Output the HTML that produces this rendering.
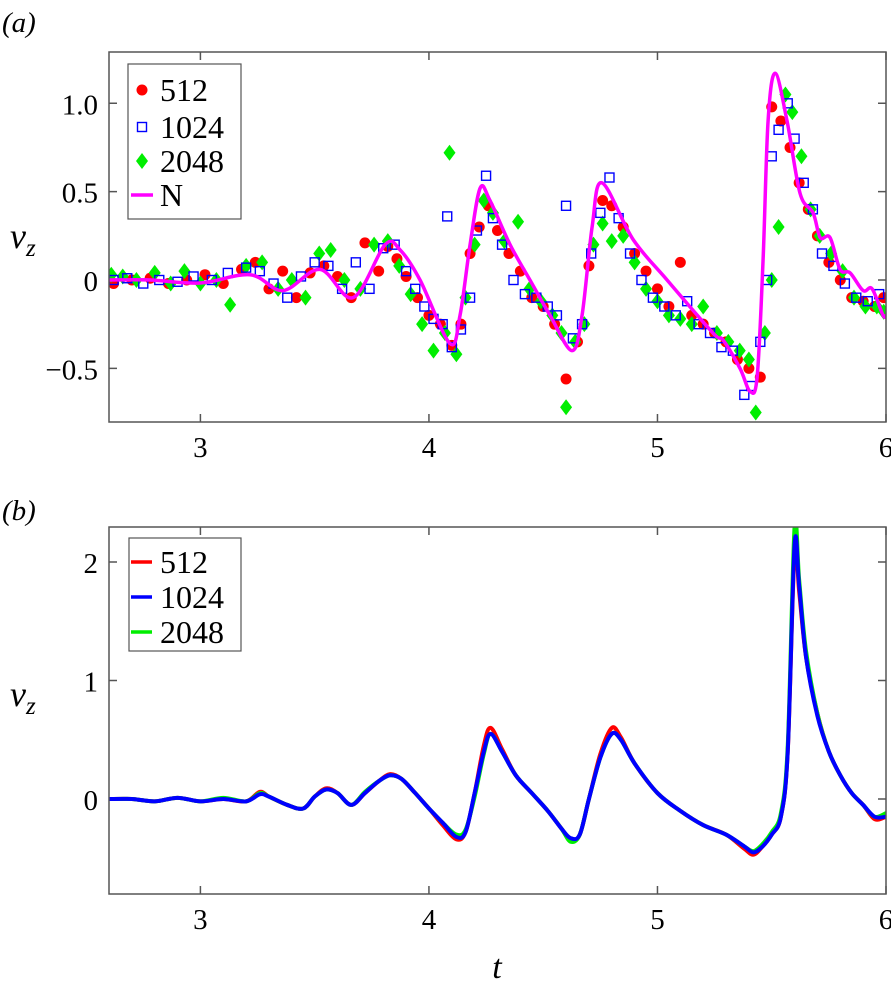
<!DOCTYPE html>
<html><head><meta charset="utf-8">
<style>
html,body{margin:0;padding:0;background:#fff;}
svg{display:block;}
svg text{font-family:"Liberation Serif","Times New Roman",Times,Tinos,"DejaVu Serif",serif !important;}
</style></head>
<body>
<svg id="chart" width="891" height="997" viewBox="0 0 891 997" xmlns="http://www.w3.org/2000/svg">
<defs>
<clipPath id="clipA"><rect x="109" y="52" width="777" height="370"/></clipPath>
<clipPath id="clipB"><rect x="109" y="527" width="777" height="367"/></clipPath>
</defs>
<text x="2" y="32" font-size="29" font-style="italic">(a)</text>
<text x="2" y="520" font-size="29" font-style="italic">(b)</text>
<g><text x="10" y="248" font-size="36" font-style="italic">v<tspan font-size="25" dy="8">z</tspan></text></g>
<g><text x="10" y="706" font-size="36" font-style="italic">v<tspan font-size="25" dy="8">z</tspan></text></g>
<text x="497" y="978" font-size="34" font-style="italic" text-anchor="middle">t</text>
<g id="axesA"></g>
<g id="axesB"></g>
<g id="plotA" clip-path="url(#clipA)"></g>
<g id="plotB" clip-path="url(#clipB)"></g>
<g id="frames"></g>
<g id="legendA"></g>
<g id="legendB"></g>
</svg>
<script>
const xTicks=[3,4,5,6];
const yTicksA=[-0.5,0,0.5,1.0];
const yTickLabelsA=["\u22120.5","0","0.5","1.0"];
const yTicksB=[0,1,2];
const yTickLabelsB=["0","1","2"];

const tN=[2.6,2.78,2.998,3.217,3.361,3.523,3.668,3.808,3.874,3.961,4.092,4.136,4.18,4.224,4.267,4.355,4.442,4.53,4.626,4.67,4.714,4.757,4.893,5.042,5.243,5.287,5.361,5.405,5.436,5.462,5.484,5.515,5.567,5.624,5.681,5.712,5.755,5.799,5.843,5.9,5.939,5.987,6.0];
const vN=[0,0,-0.017,0.03,-0.06,0.06,-0.1,0.2,0.17,0.0,-0.36,-0.2,0.2,0.52,0.45,0.2,0.0,-0.2,-0.40,-0.2,0.3,0.55,0.23,0.0,-0.3,-0.34,-0.5,-0.63,-0.55,0.11,0.9,1.17,0.9,0.49,0.38,0.24,0.24,0.06,0.04,-0.06,-0.05,-0.2,-0.2];

const tRed=[2.62,2.7,2.78,2.86,2.94,3.02,3.1,3.18,3.24,3.3,3.36,3.42,3.48,3.54,3.6,3.66,3.72,3.78,3.82,3.86,3.9,3.95,4.0,4.05,4.1,4.14,4.18,4.22,4.26,4.3,4.35,4.4,4.45,4.5,4.55,4.6,4.65,4.7,4.76,4.8,4.85,4.9,4.95,5.0,5.05,5.1,5.15,5.2,5.25,5.3,5.35,5.4,5.45,5.5,5.54,5.58,5.62,5.66,5.7,5.75,5.8,5.85,5.9,5.95,5.99];
const vRed=[-0.02,0.0,0.01,-0.02,0.0,0.03,-0.02,0.06,0.1,-0.05,0.05,-0.1,0.04,0.08,0.02,-0.1,0.21,0.05,0.19,0.12,0.02,-0.1,-0.2,-0.25,-0.37,-0.25,0.15,0.3,0.42,0.28,0.15,0.05,-0.1,-0.15,-0.25,-0.56,-0.35,0.08,0.45,0.42,0.3,0.15,0.05,-0.05,-0.15,0.1,-0.2,-0.25,-0.3,-0.35,-0.45,-0.5,-0.55,0.98,0.9,0.75,0.55,0.4,0.25,0.1,0.0,-0.1,-0.12,-0.15,-0.1];

const tBlue=[2.62,2.68,2.75,2.82,2.9,2.97,3.05,3.12,3.2,3.26,3.32,3.38,3.44,3.5,3.56,3.62,3.68,3.74,3.8,3.85,3.9,3.94,3.98,4.02,4.06,4.08,4.1,4.14,4.18,4.21,4.25,4.28,4.32,4.37,4.42,4.47,4.52,4.56,4.6,4.63,4.67,4.71,4.75,4.79,4.83,4.88,4.93,4.98,5.03,5.08,5.13,5.18,5.23,5.28,5.33,5.38,5.41,5.45,5.48,5.5,5.53,5.57,5.6,5.64,5.68,5.72,5.77,5.82,5.87,5.92,5.97];
const vBlue=[0.0,0.01,-0.02,0.0,-0.01,0.02,0.0,0.04,0.07,0.05,-0.02,-0.1,0.02,0.1,0.08,-0.05,0.1,-0.05,0.18,0.2,0.05,-0.05,-0.15,-0.22,-0.25,0.36,-0.38,-0.28,-0.1,0.28,0.59,0.35,0.2,0.0,-0.08,-0.1,-0.15,-0.2,0.42,-0.33,-0.25,0.15,0.38,0.58,0.35,0.15,0.0,-0.1,-0.15,-0.2,-0.12,-0.25,-0.3,-0.38,-0.4,-0.65,-0.6,-0.35,0.0,0.7,0.85,1.0,0.8,0.55,0.4,0.15,0.08,-0.02,-0.1,-0.12,-0.08];

const tGreen=[2.61,2.66,2.72,2.8,2.87,2.93,3.0,3.07,3.13,3.2,3.27,3.34,3.4,3.46,3.52,3.57,3.63,3.7,3.76,3.82,3.87,3.92,3.97,4.02,4.07,4.09,4.12,4.16,4.2,4.24,4.28,4.33,4.39,4.44,4.49,4.54,4.58,4.6,4.64,4.68,4.72,4.76,4.8,4.85,4.9,4.95,5.0,5.05,5.1,5.15,5.2,5.26,5.31,5.36,5.4,5.43,5.47,5.5,5.53,5.56,5.59,5.63,5.67,5.71,5.76,5.81,5.86,5.91,5.96,5.99];
const vGreen=[0.03,0.02,0.0,0.04,-0.02,0.05,-0.02,0.0,-0.14,0.08,0.1,-0.05,0.0,-0.1,0.15,0.17,0.0,-0.05,0.2,0.22,0.08,-0.08,-0.25,-0.4,-0.3,0.72,-0.42,-0.1,0.2,0.45,0.38,0.22,0.33,-0.05,-0.12,-0.2,-0.3,-0.72,-0.35,-0.25,0.2,0.32,0.22,0.25,0.1,-0.05,-0.12,-0.2,-0.22,-0.25,-0.15,-0.3,-0.35,-0.4,-0.45,-0.75,-0.3,0.0,0.3,1.05,0.95,0.7,0.4,0.25,0.15,0.05,-0.1,-0.15,-0.15,-0.18];

const tB=[2.6,2.7,2.8,2.9,3.0,3.1,3.2,3.26,3.3,3.38,3.45,3.5,3.55,3.6,3.66,3.72,3.78,3.83,3.88,3.94,4.0,4.06,4.12,4.16,4.2,4.24,4.27,4.32,4.38,4.45,4.52,4.58,4.62,4.66,4.7,4.75,4.8,4.84,4.9,5.0,5.1,5.2,5.3,5.38,5.42,5.46,5.5,5.54,5.57,5.6,5.62,5.65,5.7,5.75,5.8,5.85,5.9,5.95,6.0];
const vB512=[0,0,-0.02,0.01,-0.02,0.0,-0.02,0.06,0.02,-0.05,-0.08,0.02,0.09,0.05,-0.05,0.05,0.15,0.21,0.17,0.05,-0.08,-0.22,-0.34,-0.28,0.05,0.45,0.6,0.42,0.2,0.05,-0.1,-0.25,-0.35,-0.3,0.0,0.38,0.6,0.52,0.3,0.05,-0.1,-0.22,-0.3,-0.42,-0.47,-0.4,-0.3,-0.15,0.4,2.1,1.75,1.2,0.72,0.4,0.2,0.05,-0.05,-0.17,-0.15];
const vB1024=[0,0,-0.02,0.01,-0.02,0.0,-0.02,0.04,0.02,-0.05,-0.08,0.02,0.08,0.05,-0.05,0.05,0.15,0.2,0.17,0.05,-0.08,-0.2,-0.32,-0.28,0.05,0.4,0.55,0.4,0.2,0.05,-0.1,-0.25,-0.33,-0.3,0.0,0.35,0.55,0.5,0.3,0.05,-0.1,-0.22,-0.3,-0.4,-0.45,-0.4,-0.3,-0.15,0.4,2.15,1.8,1.2,0.7,0.4,0.2,0.05,-0.05,-0.15,-0.15];
const vB2048=[0,0,-0.02,0.01,-0.02,0.01,-0.02,0.05,0.02,-0.05,-0.08,0.02,0.08,0.05,-0.05,0.06,0.15,0.2,0.17,0.05,-0.08,-0.2,-0.3,-0.26,0.02,0.38,0.55,0.4,0.2,0.05,-0.1,-0.25,-0.36,-0.3,0.0,0.35,0.55,0.5,0.3,0.05,-0.1,-0.22,-0.3,-0.4,-0.44,-0.38,-0.28,-0.12,0.45,2.3,1.85,1.25,0.72,0.4,0.2,0.05,-0.05,-0.15,-0.12];

const NS="http://www.w3.org/2000/svg";
const L=109,R=886,TA=52,BA=422,TB=527,BB=894;
const X=t=>L+(t-2.6)*(R-L)/3.4;
const YA=v=>280-v*176.7;
const YB=v=>799-v*118.5;
function mk(tag,attrs,parent){const e=document.createElementNS(NS,tag);for(const k in attrs)e.setAttribute(k,attrs[k]);parent.appendChild(e);return e;}
function smooth(pts){let d="M"+pts[0][0]+","+pts[0][1];for(let i=0;i<pts.length-1;i++){const p0=pts[Math.max(0,i-1)],p1=pts[i],p2=pts[i+1],p3=pts[Math.min(pts.length-1,i+2)];const c1=[p1[0]+(p2[0]-p0[0])/6,p1[1]+(p2[1]-p0[1])/6],c2=[p2[0]-(p3[0]-p1[0])/6,p2[1]-(p3[1]-p1[1])/6];d+=" C"+c1+" "+c2+" "+p2;}return d;}

function axes(g,T,B,Y,ticks,labels){
  xTicks.forEach(t=>{
    const x=X(t);
    const tk=mk("path",{d:`M${x},${B}v-8M${x},${T}v8`,stroke:"#555","stroke-width":1.5},g);
    
    
    const lb=mk("text",{x:x,y:B+35,"font-size":29,"text-anchor":"middle"},g);
    lb.textContent=t;
    
    
  });
  ticks.forEach((v,i)=>{
    const y=Y(v);
    const tk=mk("path",{d:`M${L},${y}h8M${R},${y}h-8`,stroke:"#555","stroke-width":1.5},g);
    
    
    const lb=mk("text",{x:L-11,y:y+11,"font-size":29,"text-anchor":"end"},g);
    lb.textContent=labels[i];
    
    
  });
}
axes(document.getElementById("axesA"),TA,BA,YA,yTicksA,yTickLabelsA);
axes(document.getElementById("axesB"),TB,BB,YB,yTicksB,yTickLabelsB);

const fr=document.getElementById("frames");
const f1=mk("rect",{x:L,y:TA,width:R-L,height:BA-TA,fill:"none",stroke:"#555","stroke-width":1.5},fr);


const f2=mk("rect",{x:L,y:TB,width:R-L,height:BB-TB,fill:"none",stroke:"#555","stroke-width":1.5},fr);



const pa=document.getElementById("plotA");
function dot(x,y,g){const c=mk("circle",{cx:x,cy:y,r:5.5,fill:"#ff0000"},g);}
function sq(x,y,g){const r=mk("rect",{x:x-4.5,y:y-4.5,width:9,height:9,fill:"none",stroke:"#0000ff","stroke-width":1.4},g);}
function dia(x,y,g){const p=mk("path",{d:`M${x},${y-8}L${x+6},${y}L${x},${y+8}L${x-6},${y}Z`,fill:"#00ee00"},g);}
tRed.forEach((t,i)=>dot(X(t),YA(vRed[i]),pa));
tGreen.forEach((t,i)=>dia(X(t),YA(vGreen[i]),pa));
tBlue.forEach((t,i)=>sq(X(t),YA(vBlue[i]),pa));
const nl=mk("path",{d:smooth(tN.map((t,i)=>[X(t),YA(vN[i])])),fill:"none",stroke:"#ff00ff","stroke-width":3.5,"stroke-linejoin":"round"},pa);



const pb=document.getElementById("plotB");
[[vB512,"#ff0000","series-512-line"],[vB2048,"#00ee00","series-2048-line"],[vB1024,"#0000ff","series-1024-line"]].forEach(s=>{
  const p=mk("path",{d:smooth(tB.map((t,i)=>[X(t),YB(s[0][i])])),fill:"none",stroke:s[1],"stroke-width":4,"stroke-linejoin":"round"},pb);
  
  
});

const la=document.getElementById("legendA");
mk("rect",{x:128,y:64,width:113,height:155,fill:"#fff",stroke:"#555","stroke-width":1.2},la);
const la_items=[["512",90],["1024",127],["2048",161],["N",195]];
dot(142,90,la);sq(142,127,la);dia(142,161,la);
mk("path",{d:"M131,195h22",stroke:"#ff00ff","stroke-width":3.5},la);
la_items.forEach(it=>{const t=mk("text",{x:160,y:it[1]+11,"font-size":32},la);t.textContent=it[0];});

const lbg=document.getElementById("legendB");
mk("rect",{x:129,y:538,width:112,height:113,fill:"#fff",stroke:"#555","stroke-width":1.2},lbg);
[["512","#ff0000",562],["1024","#0000ff",597],["2048","#00ee00",632]].forEach(it=>{
  mk("path",{d:`M131,${it[2]}h21`,stroke:it[1],"stroke-width":3.5},lbg);
  const t=mk("text",{x:160,y:it[2]+11,"font-size":32},lbg);t.textContent=it[0];
  
  
});
</script>
</body></html>
